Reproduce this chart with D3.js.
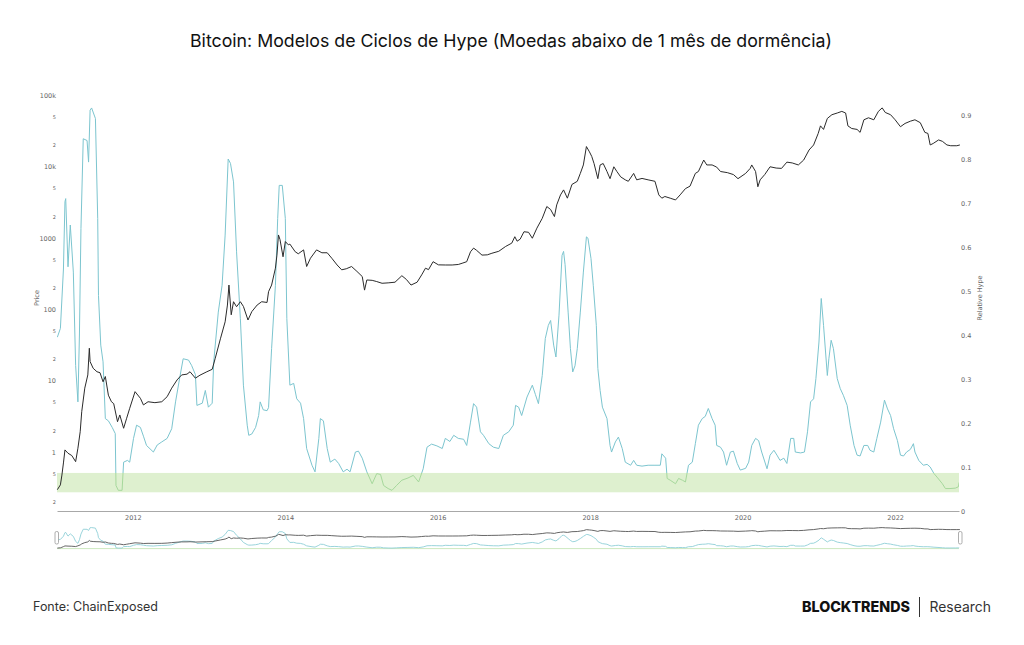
<!DOCTYPE html>
<html><head><meta charset="utf-8">
<script src="https://cdn.jsdelivr.net/npm/d3@7/dist/d3.min.js"></script>
<style>
html,body{margin:0;padding:0;background:#fff;}
svg{display:block;}
</style></head>
<body>
<svg id="chart" width="1024" height="645"></svg>
<script>
// ---------------- DATA (decimal years) ----------------
const hypeYears = [2011.01,2011.05,2011.09,2011.11,2011.12,2011.15,2011.18,2011.22,2011.25,2011.28,2011.30,2011.32,2011.35,2011.40,2011.42,2011.44,2011.46,2011.51,2011.54,2011.55,2011.58,2011.61,2011.64,2011.68,2011.73,2011.77,2011.78,2011.81,2011.86,2011.88,2011.93,2011.96,
2012.01,2012.05,2012.10,2012.14,2012.18,2012.27,2012.32,2012.38,2012.45,2012.51,2012.56,2012.62,2012.66,2012.73,2012.77,2012.82,2012.84,2012.91,2012.95,2012.99,
2013.04,2013.06,2013.12,2013.17,2013.21,2013.25,2013.28,2013.32,2013.36,2013.41,2013.45,2013.50,2013.52,2013.56,2013.61,2013.65,2013.67,2013.71,2013.76,2013.78,2013.82,2013.87,2013.90,2013.92,2013.96,
2014.00,2014.02,2014.06,2014.11,2014.15,2014.20,2014.24,2014.28,2014.35,2014.39,2014.44,2014.46,2014.50,2014.55,2014.59,2014.65,2014.70,2014.76,2014.81,2014.85,2014.92,2014.96,
2015.01,2015.07,2015.14,2015.20,2015.25,2015.29,2015.35,2015.40,2015.46,2015.53,2015.61,2015.68,2015.75,2015.81,2015.86,2015.92,2015.99,
2016.06,2016.10,2016.16,2016.21,2016.27,2016.34,2016.38,2016.43,2016.47,2016.51,2016.56,2016.60,2016.67,2016.73,2016.80,2016.86,2016.93,2016.99,
2017.02,2017.06,2017.10,2017.17,2017.24,2017.28,2017.32,2017.37,2017.41,2017.45,2017.48,2017.52,2017.55,2017.59,2017.63,2017.65,2017.67,2017.71,2017.74,2017.77,2017.80,2017.83,2017.87,2017.91,2017.95,2017.97,
2018.01,2018.04,2018.08,2018.10,2018.13,2018.16,2018.22,2018.26,2018.28,2018.33,2018.37,2018.42,2018.46,2018.53,2018.57,2018.61,2018.68,2018.76,2018.85,2018.92,2018.94,2018.99,
2019.01,2019.05,2019.12,2019.16,2019.21,2019.25,2019.29,2019.34,2019.38,2019.42,2019.47,2019.51,2019.55,2019.60,2019.64,2019.66,2019.71,2019.75,2019.79,2019.84,2019.88,2019.93,2019.97,
2020.04,2020.08,2020.12,2020.17,2020.21,2020.25,2020.32,2020.36,2020.41,2020.45,2020.49,2020.54,2020.58,2020.63,2020.67,2020.69,2020.76,2020.81,2020.85,2020.89,2020.93,2020.96,
2021.00,2021.03,2021.06,2021.11,2021.13,2021.16,2021.19,2021.24,2021.28,2021.32,2021.37,2021.41,2021.46,2021.50,2021.54,2021.59,2021.64,2021.67,2021.72,2021.76,2021.81,2021.86,2021.90,2021.94,2021.98,
2022.03,2022.07,2022.11,2022.15,2022.20,2022.24,2022.26,2022.31,2022.37,2022.42,2022.46,2022.51,2022.55,2022.62,2022.66,2022.72,2022.79,2022.83,2022.84];
const hypeValues = [0.395,0.415,0.55,0.703,0.71,0.555,0.65,0.543,0.331,0.248,0.40,0.642,0.846,0.842,0.793,0.911,0.916,0.892,0.665,0.49,0.377,0.339,0.21,0.205,0.19,0.176,0.058,0.047,0.047,0.111,0.115,0.111,
0.165,0.195,0.19,0.17,0.149,0.134,0.15,0.157,0.165,0.187,0.248,0.308,0.346,0.343,0.331,0.31,0.24,0.245,0.274,0.236,
0.245,0.339,0.452,0.513,0.627,0.80,0.79,0.748,0.589,0.437,0.286,0.195,0.172,0.175,0.19,0.217,0.248,0.23,0.228,0.235,0.369,0.513,0.665,0.74,0.74,
0.665,0.437,0.286,0.29,0.255,0.245,0.21,0.142,0.104,0.089,0.165,0.21,0.205,0.142,0.111,0.118,0.108,0.089,0.095,0.089,0.134,0.136,
0.12,0.089,0.062,0.085,0.083,0.058,0.051,0.047,0.058,0.07,0.075,0.081,0.066,0.096,0.145,0.152,0.148,
0.142,0.165,0.158,0.172,0.165,0.163,0.149,0.202,0.244,0.236,0.18,0.172,0.153,0.145,0.142,0.172,0.18,0.195,
0.24,0.236,0.217,0.259,0.286,0.265,0.244,0.308,0.392,0.422,0.433,0.377,0.35,0.445,0.581,0.59,0.56,0.452,0.369,0.316,0.33,0.369,0.452,0.543,0.623,0.62,
0.574,0.513,0.422,0.324,0.274,0.236,0.21,0.149,0.134,0.157,0.168,0.142,0.111,0.104,0.115,0.104,0.102,0.104,0.104,0.104,0.13,0.12,
0.074,0.07,0.062,0.074,0.07,0.066,0.104,0.111,0.153,0.195,0.21,0.215,0.233,0.21,0.195,0.149,0.145,0.134,0.104,0.134,0.136,0.108,0.093,
0.097,0.111,0.149,0.165,0.16,0.134,0.096,0.127,0.138,0.127,0.115,0.12,0.108,0.165,0.165,0.134,0.132,0.134,0.18,0.248,0.255,0.301,
0.384,0.483,0.422,0.308,0.346,0.388,0.369,0.301,0.278,0.263,0.24,0.195,0.149,0.127,0.125,0.149,0.149,0.138,0.134,0.165,0.202,0.252,0.232,0.217,0.187,
0.16,0.127,0.125,0.134,0.14,0.153,0.134,0.115,0.104,0.106,0.1,0.085,0.077,0.062,0.051,0.051,0.052,0.055,0.065];

const priceYears = [2011.01,2011.05,2011.07,2011.09,2011.11,2011.15,2011.20,2011.25,2011.28,2011.31,2011.33,2011.37,2011.41,2011.43,2011.44,2011.48,2011.53,2011.57,2011.61,2011.64,2011.68,2011.72,2011.75,2011.80,2011.83,2011.88,2011.92,2011.96,
2012.03,2012.10,2012.14,2012.20,2012.29,2012.38,2012.45,2012.51,2012.58,2012.64,2012.71,2012.75,2012.82,2012.88,2012.97,
2013.04,2013.08,2013.15,2013.21,2013.24,2013.26,2013.29,2013.32,2013.36,2013.41,2013.45,2013.51,2013.56,2013.63,2013.69,2013.76,2013.78,2013.82,2013.87,2013.89,2013.91,2013.93,2013.97,
2014.00,2014.04,2014.06,2014.13,2014.17,2014.24,2014.28,2014.33,2014.41,2014.48,2014.55,2014.61,2014.68,2014.74,2014.80,2014.87,2014.94,
2015.01,2015.04,2015.07,2015.14,2015.20,2015.27,2015.35,2015.44,2015.53,2015.59,2015.65,2015.73,2015.79,2015.84,2015.88,2015.94,
2016.01,2016.10,2016.19,2016.27,2016.32,2016.38,2016.43,2016.47,2016.51,2016.58,2016.65,2016.71,2016.80,2016.89,2016.97,
2017.01,2017.04,2017.08,2017.13,2017.19,2017.24,2017.30,2017.37,2017.43,2017.48,2017.53,2017.56,2017.61,2017.65,2017.70,2017.76,2017.83,2017.87,2017.91,2017.95,2017.99,
2018.02,2018.05,2018.10,2018.13,2018.17,2018.22,2018.26,2018.31,2018.35,2018.40,2018.46,2018.50,2018.57,2018.61,2018.68,2018.76,2018.85,2018.90,2018.94,2018.98,
2019.05,2019.12,2019.18,2019.25,2019.31,2019.38,2019.42,2019.49,2019.53,2019.60,2019.66,2019.71,2019.80,2019.88,2019.94,
2020.04,2020.10,2020.12,2020.17,2020.20,2020.23,2020.29,2020.36,2020.44,2020.51,2020.58,2020.65,2020.73,2020.80,2020.87,2020.93,2020.99,
2021.02,2021.06,2021.11,2021.17,2021.24,2021.30,2021.35,2021.38,2021.43,2021.50,2021.54,2021.59,2021.65,2021.72,2021.78,2021.83,2021.87,2021.94,
2022.00,2022.07,2022.13,2022.20,2022.26,2022.33,2022.39,2022.43,2022.46,2022.50,2022.57,2022.62,2022.68,2022.73,2022.81,2022.85];
const priceValues = [0.30,0.35,0.48,0.71,1.08,0.97,0.9,0.74,1.14,1.94,3.7,7.9,12.1,28.6,18.6,15,13.4,13,9.7,11.5,6.3,5.1,4.8,2.68,3.33,2.17,3.0,4.13,
7.06,5.7,4.6,5.1,4.95,5.1,6.0,7.9,10.3,12.1,12.4,13.4,10.9,12,13.4,
14.5,20.7,39.5,67,115,219,84,128,109,128,110,71,93,115,128,125,177,219,377,575,1100,950,545,
890,800,820,640,600,680,398,520,680,620,620,520,418,358,370,398,340,
288,186,258,255,245,232,235,240,296,262,219,240,304,377,360,465,
420,418,418,425,442,465,640,720,670,575,580,610,650,760,845,
1040,900,960,1220,1200,990,1370,1880,2750,2500,1990,2900,4000,4700,3600,5600,6200,8000,10500,19000,16000,
13800,11000,6750,10500,11000,8500,6750,9900,8500,7150,6500,6200,8000,6500,6800,6500,6200,4000,3600,3800,
3600,3400,4000,4900,5300,8000,8500,12300,10500,10500,9800,8500,8200,7700,6750,
8000,9400,10500,8500,5200,6500,7700,9900,9500,9400,11500,11200,10500,12300,17000,20000,29000,
37000,33000,47000,53000,56000,59000,56000,37000,34000,33000,30000,45000,48000,45000,59000,66000,57000,53000,
45000,36000,40000,43000,45000,41000,30000,29000,20000,21000,23500,22500,20000,19500,19500,20000];

const xTickYears = [2012,2014,2016,2018,2020,2022];
const priceMajorTicks = [100000,10000,1000,100,10,1];
const priceMajorLabels = ["100k","10k","1000","100","10","1"];
const priceMinorTicks = [50000,20000,5000,2000,500,200,50,20,5,2,0.5,0.2];
const priceMinorLabels = ["5","2","5","2","5","2","5","2","5","2","5","2"];
const hypeTicks = [0,0.1,0.2,0.3,0.4,0.5,0.6,0.7,0.8,0.9];
const hypeTickLabels = ["0","0.1","0.2","0.3","0.4","0.5","0.6","0.7","0.8","0.9"];
const bandRange = [0.0425, 0.0865]; // low-hype zone (relative hype)
const zoneThreshold = 0.0865;

const titleText = "Bitcoin: Modelos de Ciclos de Hype (Moedas abaixo de 1 mês de dormência)";
const sourceText = "Fonte: ChainExposed";
const brandText = "BLOCKTRENDS";
const brandSub = "Research";
const priceAxisTitle = "Price";
const hypeAxisTitle = "Relative Hype";

// ---------------- HELPERS ----------------
function yearToDate(y){
  const yr = Math.floor(y);
  const s = Date.UTC(yr,0,1), e = Date.UTC(yr+1,0,1);
  return new Date(s + (y-yr)*(e-s));
}
const hypeData = hypeYears.map((y,i)=>({d:yearToDate(y), v:hypeValues[i]}));
const priceData = priceYears.map((y,i)=>({d:yearToDate(y), v:priceValues[i]}));

const svg = d3.select("#chart");
const L = 57, R = 959, T = 71, B = 511;
const NT = 525.6, NB = 549.2;
const axisFont = "DejaVu Sans, Verdana, sans-serif";
const textFont = "Inter, 'Noto Sans', sans-serif";

const x = d3.scaleUtc().domain([new Date(Date.UTC(2011,0,3)), new Date(Date.UTC(2022,10,3))]).range([L,R]);
const yPrice = d3.scaleLog().domain([Math.pow(10,-0.8215), Math.pow(10,5.336)]).range([B,T]);
const yHype = d3.scaleLinear().domain([0,1]).range([B,T]);
const yNavPrice = d3.scaleLog().domain(yPrice.domain()).range([NB,NT]);
const yNavHype = d3.scaleLinear().domain([0,1]).range([NB,NT]);

// ---------------- TITLE ----------------
function fitText(sel, targetWidth){
  const node = sel.node();
  const fs = parseFloat(sel.attr("font-size"));
  const w = node.getComputedTextLength();
  if (w > 0) sel.attr("font-size", (fs*targetWidth/w).toFixed(2));
}
const title = svg.append("text").attr("x",511).attr("y",47).attr("text-anchor","middle")
  .attr("font-family",textFont).attr("font-size",16).attr("fill","#111").text(titleText);
fitText(title, 642);

// ---------------- DEFS / CLIPS ----------------
const defs = svg.append("defs");
defs.append("clipPath").attr("id","clipAbove").append("rect")
  .attr("x",L).attr("y",0).attr("width",R-L).attr("height",yHype(zoneThreshold));
defs.append("clipPath").attr("id","clipBelow").append("rect")
  .attr("x",L).attr("y",yHype(zoneThreshold)).attr("width",R-L).attr("height",B-yHype(zoneThreshold)+2);

// ---------------- PLOT BAND ----------------
svg.append("rect").attr("x",L).attr("width",R-L)
  .attr("y",yHype(bandRange[1])).attr("height",yHype(bandRange[0])-yHype(bandRange[1]))
  .attr("fill","#def0cf");

// ---------------- AXES ----------------
const xAxis = svg.append("g").attr("transform",`translate(0,${B})`)
  .call(d3.axisBottom(x).tickValues(xTickYears.map(y=>new Date(Date.UTC(y,0,1)))).tickFormat(d=>String(d.getUTCFullYear())).tickSize(0).tickPadding(4));
xAxis.select(".domain").attr("stroke","#a8a8a8").attr("stroke-width",1);
xAxis.selectAll("text").attr("font-family",axisFont).attr("font-size",6.5).attr("fill","#666");

const leftTicks = priceMajorTicks.concat(priceMinorTicks);
const leftLabelMap = new Map();
priceMajorTicks.forEach((t,i)=>leftLabelMap.set(t,priceMajorLabels[i]));
priceMinorTicks.forEach((t,i)=>leftLabelMap.set(t,priceMinorLabels[i]));
const yAxisL = svg.append("g").attr("transform",`translate(${L},0)`)
  .call(d3.axisLeft(yPrice).tickValues(leftTicks).tickFormat(d=>leftLabelMap.get(d)).tickSize(0).tickPadding(1));
yAxisL.select(".domain").remove();
yAxisL.selectAll("text").attr("font-family",axisFont).attr("fill","#666")
  .attr("font-size",d=>priceMajorTicks.includes(d)?6.5:5);

const hypeLabelMap = new Map(hypeTicks.map((t,i)=>[t,hypeTickLabels[i]]));
const yAxisR = svg.append("g").attr("transform",`translate(${R},0)`)
  .call(d3.axisRight(yHype).tickValues(hypeTicks).tickFormat(d=>hypeLabelMap.get(d)).tickSize(0).tickPadding(2));
yAxisR.select(".domain").remove();
yAxisR.selectAll("text").attr("font-family",axisFont).attr("font-size",6.5).attr("fill","#666");

svg.append("text").attr("transform","translate(39,298) rotate(-90)").attr("text-anchor","middle")
  .attr("font-family",axisFont).attr("font-size",6.5).attr("fill","#666").text(priceAxisTitle);
svg.append("text").attr("transform","translate(982,298) rotate(-90)").attr("text-anchor","middle")
  .attr("font-family",axisFont).attr("font-size",6.5).attr("fill","#666").text(hypeAxisTitle);

// ---------------- SERIES ----------------
const hypeLine = d3.line().x(d=>x(d.d)).y(d=>yHype(d.v));
const priceLine = d3.line().x(d=>x(d.d)).y(d=>yPrice(d.v));

svg.append("path").datum(hypeData).attr("d",hypeLine).attr("fill","none")
  .attr("stroke","#7cc5cf").attr("stroke-width",1).attr("clip-path","url(#clipAbove)");
svg.append("path").datum(hypeData).attr("d",hypeLine).attr("fill","none")
  .attr("stroke","#a6d89c").attr("stroke-width",1).attr("clip-path","url(#clipBelow)");
svg.append("path").datum(priceData).attr("d",priceLine).attr("fill","none")
  .attr("stroke","#2b2b2b").attr("stroke-width",1).attr("stroke-linejoin","round");

// ---------------- NAVIGATOR ----------------
const navHype = d3.line().x(d=>x(d.d)).y(d=>yNavHype(d.v));
const navPrice = d3.line().x(d=>x(d.d)).y(d=>yNavPrice(d.v));
svg.append("line").attr("x1",L).attr("x2",R).attr("y1",NB-0.6).attr("y2",NB-0.6)
  .attr("stroke","#cde8bf").attr("stroke-width",1);
svg.append("path").datum(hypeData).attr("d",navHype).attr("fill","none")
  .attr("stroke","#8fcfd7").attr("stroke-width",0.9);
svg.append("path").datum(priceData).attr("d",navPrice).attr("fill","none")
  .attr("stroke","#555").attr("stroke-width",0.9);
[L-2, R-0.5].forEach(hx=>{
  svg.append("rect").attr("x",hx).attr("y",531.5).attr("width",3.5).attr("height",12.5)
    .attr("rx",1.5).attr("fill","#fff").attr("stroke","#999").attr("stroke-width",0.8);
});

// ---------------- FOOTER ----------------
const src = svg.append("text").attr("x",33).attr("y",611).attr("font-family",textFont)
  .attr("font-size",12).attr("fill","#333").text(sourceText);
fitText(src, 125);
const brand = svg.append("text").attr("x",802).attr("y",612).attr("font-family",textFont)
  .attr("font-size",13).attr("font-weight",800).attr("fill","#111").text(brandText);
fitText(brand, 108);
svg.append("line").attr("x1",919.5).attr("x2",919.5).attr("y1",597).attr("y2",617)
  .attr("stroke","#333").attr("stroke-width",1);
const res = svg.append("text").attr("x",929.5).attr("y",612).attr("font-family",textFont)
  .attr("font-size",13).attr("fill","#333").text(brandSub);
fitText(res, 61.5);
</script>
</body></html>
